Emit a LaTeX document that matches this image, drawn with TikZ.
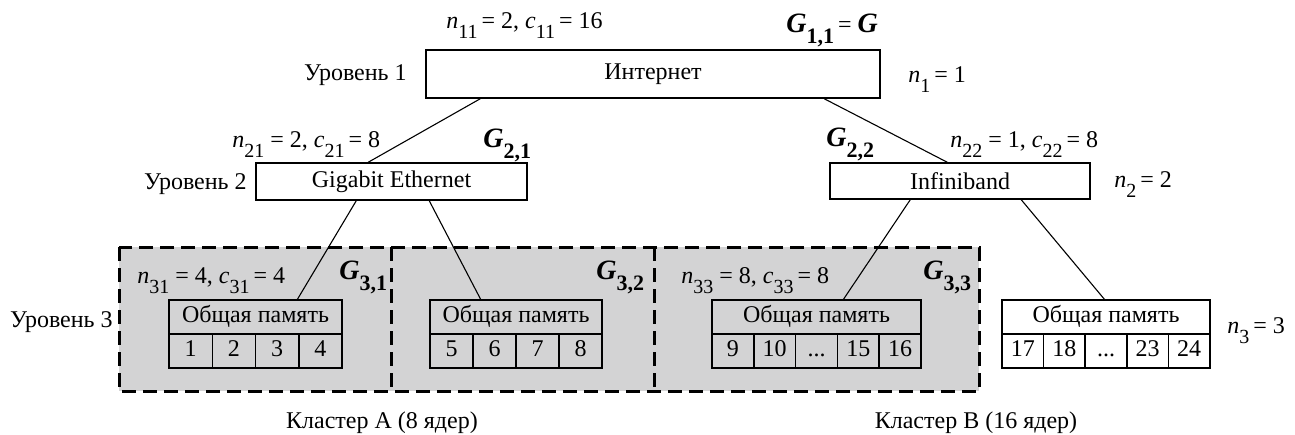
\documentclass[tikz,border=0pt]{standalone}
\usepackage{fontspec}
\setmainfont{Liberation Serif}
\definecolor{clustergray}{RGB}{211,211,212}
\newcommand{\lbl}[2]{\textit{#1}\raisebox{-0.45em}{\fontsize{20}{20}\selectfont #2}}
\newcommand{\glbl}[1]{\textbf{\fontsize{28}{28}\selectfont\textit{G}\raisebox{-0.4em}{\fontsize{22}{22}\selectfont #1}}}
\newcommand{\dd}{...}
\tikzset{every picture/.style={line width=0.75pt}}
\tikzset{
  net/.style={draw, line width=1.5pt, inner sep=0pt, font=\fontsize{24}{28}\selectfont},
  mem/.style={draw, line width=1.5pt, inner sep=0pt, outer sep=0pt, minimum height=34pt,
    text height=16pt, text depth=5pt, font=\fontsize{24}{28}\selectfont},
  cell/.style={mem},
  txt/.style={inner sep=0pt, font=\fontsize{24}{28}\selectfont},
  link/.style={line width=1.1pt},
  cluster/.style={line width=3pt, dash pattern=on 14pt off 7pt}
}

\begin{document}
\begin{tikzpicture}[x=1pt,y=-1pt]
    \useasboundingbox (0,0) rectangle (1295,434);

    % кластеры: серый фон и штриховые рамки
    \fill[clustergray] (119,247) rectangle (979,391);
    \draw[cluster] (119,247) rectangle (979,391);
    \draw[cluster] (391,247) -- (391,391);
    \draw[cluster] (654,247) -- (654,391);

    % уровень 1
    \node[net, minimum width=454pt, minimum height=48pt] (inet) at (653,74) {Интернет};
    \node[txt, anchor=base east] (lev1) at (407,80) {Уровень 1};
    \node[txt, anchor=base west] (n11) at (446,28) {\lbl{n}{11}\,= 2, \lbl{c}{11}\,= 16};
    \node[txt, anchor=base west] (g11) at (786,32) {\glbl{1,1}\,= {\fontsize{28}{28}\selectfont\textbf{\textit{G}}}};
    \node[txt, anchor=base west] (n1) at (908,82) {\lbl{n}{1}\,= 1};

    % уровень 2
    \node[net, minimum width=271pt, minimum height=37pt] (gige) at (391.5,181.5) {Gigabit Ethernet};
    \node[net, minimum width=260pt, minimum height=36pt] (ib) at (960,181) {Infiniband};
    \node[txt, anchor=base east] (lev2) at (247,189) {Уровень 2};
    \node[txt, anchor=base west] (n21) at (232,147) {\lbl{n}{21} = 2, \lbl{c}{21}\,= 8};
    \node[txt, anchor=base west] (g21) at (483,147) {\glbl{2,1}};
    \node[txt, anchor=base west] (g22) at (826,146) {\glbl{2,2}};
    \node[txt, anchor=base west] (n22) at (950,147) {\lbl{n}{22} = 1, \lbl{c}{22}\,= 8};
    \node[txt, anchor=base west] (n2) at (1114,187) {\lbl{n}{2}\,= 2};

    % уровень 3: блоки общей памяти
    \node[mem, minimum width=173pt] (mema) at (255.5,317) {Общая память};
    \foreach \v [count=\i] in {1,2,3,4}
        \node[cell, minimum width=43.25pt] (ma\i) at ({169+43.25*(\i-0.5)},351) {\v};
    \node[mem, minimum width=172pt] (memb) at (516,317) {Общая память};
    \foreach \v [count=\i] in {5,6,7,8}
        \node[cell, minimum width=43pt] (mb\i) at ({430+43*(\i-0.5)},351) {\v};
    \node[mem, minimum width=209pt] (memc) at (816.5,317) {Общая память};
    \foreach \v [count=\i] in {9,10,\dd,15,16}
        \node[cell, minimum width=41.8pt] (mc\i) at ({712+41.8*(\i-0.5)},351) {\v};
    \node[mem, minimum width=208pt] (memd) at (1106,317) {Общая память};
    \foreach \v [count=\i] in {17,18,\dd,23,24}
        \node[cell, minimum width=41.6pt] (md\i) at ({1002+41.6*(\i-0.5)},351) {\v};

    \node[txt, anchor=base east] (lev3) at (113,327) {Уровень 3};
    \node[txt, anchor=base west] (n31) at (137,283) {\lbl{n}{31} = 4, \lbl{c}{31}\,= 4};
    \node[txt, anchor=base west] (g31) at (339,279) {\glbl{3,1}};
    \node[txt, anchor=base west] (g32) at (596,279) {\glbl{3,2}};
    \node[txt, anchor=base west] (n33) at (681,283) {\lbl{n}{33} = 8, \lbl{c}{33}\,= 8};
    \node[txt, anchor=base west] (g33) at (923,279) {\glbl{3,3}};
    \node[txt, anchor=base west] (n3) at (1227,333) {\lbl{n}{3}\,= 3};

    % подписи кластеров
    \node[txt, anchor=base] (cla) at (382,428) {Кластер A (8 ядер)};
    \node[txt, anchor=base] (clb) at (976,428) {Кластер B (16 ядер)};

    % связи
    \draw[link] ([xshift=55pt]inet.south west) -- ([xshift=113pt]gige.north west);
    \draw[link] ([xshift=399pt]inet.south west) -- ([xshift=118pt]ib.north west);
    \draw[link] ([xshift=101pt]gige.south west) -- ([xshift=128pt]mema.north west);
    \draw[link] ([xshift=174pt]gige.south west) -- ([xshift=51pt]memb.north west);
    \draw[link] ([xshift=81pt]ib.south west) -- ([xshift=131pt]memc.north west);
    \draw[link] ([xshift=192pt]ib.south west) -- ([xshift=103pt]memd.north west);
\end{tikzpicture}
\end{document}
